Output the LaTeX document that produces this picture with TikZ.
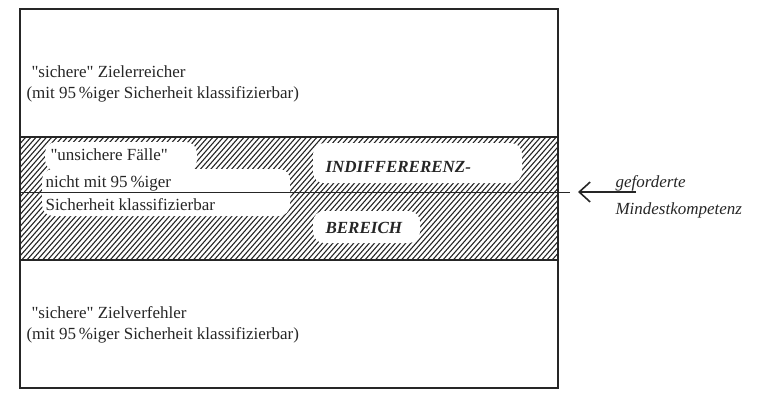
\documentclass[tikz,border=0pt]{standalone}
\usepackage{fontspec}
\setmainfont{Liberation Serif}
\usepackage{tikz}
\usetikzlibrary{arrows.meta}

\newcommand{\gq}{\textquotedbl}

\tikzset{
    txt/.style={font=\fontsize{17}{20}\selectfont, anchor=west, inner sep=0pt},
    fett/.style={txt, font=\fontsize{17}{20}\selectfont\bfseries\itshape},
    kursiv/.style={txt, font=\fontsize{17}{20}\selectfont\itshape},
    fleck/.style={fill=white, draw=none, rounded corners=11pt}
}

\begin{document}
\begin{tikzpicture}[x=1pt, y=-1pt, line width=1.1pt, black!85]
    \useasboundingbox (0,0) rectangle (764,407);
    \begin{scope}
        \clip (20,137) rectangle (558,260);
        \foreach \i in {0,...,136} {
            \draw[line width=1.1pt] ({\i*5.2-130},261) -- ++(110,-125);
        }
    \end{scope}
    \fill[fleck] (45,142) rectangle (197,171);
    \fill[fleck] (42,169) rectangle (290,216);
    \fill[fleck] (313,143) rectangle (522,183);
    \fill[fleck] (313,211) rectangle (420,243);
    \draw (20,137) -- (558,137);
    \draw (20,260) -- (558,260);
    \draw (20,9) rectangle (558,388);
    \coordinate (mlinks) at (20,192);
    \coordinate (mrechts) at (570,192);
    \coordinate (spitze) at (578,192);
    \coordinate (schaft) at (636,192);
    \draw[line width=0.9pt] (mlinks) -- (mrechts);
    \draw[line width=1.3pt, -{Straight Barb[length=11pt, width=20pt, line width=1.6pt]}] (schaft) -- (spitze);
    \node[txt] (oben1) at (31,72) {\gq sichere\gq{} Zielerreicher};
    \node[txt] (oben2) at (26,94) {(mit 95\,\%iger Sicherheit klassifizierbar)};
    \node[txt] (mitte1) at (50,155) {\gq unsichere Fälle\gq};
    \node[txt] (mitte2) at (45,183) {nicht mit 95\,\%iger};
    \node[txt] (mitte3) at (45,205) {Sicherheit klassifizierbar};
    \node[fett] (indiff) at (325,167) {INDIFFERERENZ-};
    \node[fett] (bereich) at (325,228) {BEREICH};
    \node[txt] (unten1) at (31,313) {\gq sichere\gq{} Zielverfehler};
    \node[txt] (unten2) at (26,335) {(mit 95\,\%iger Sicherheit klassifizierbar)};
    \node[kursiv] (gef) at (615,183) {geforderte};
    \node[kursiv] (mindest) at (615,210) {Mindestkompetenz};
\end{tikzpicture}
\end{document}
